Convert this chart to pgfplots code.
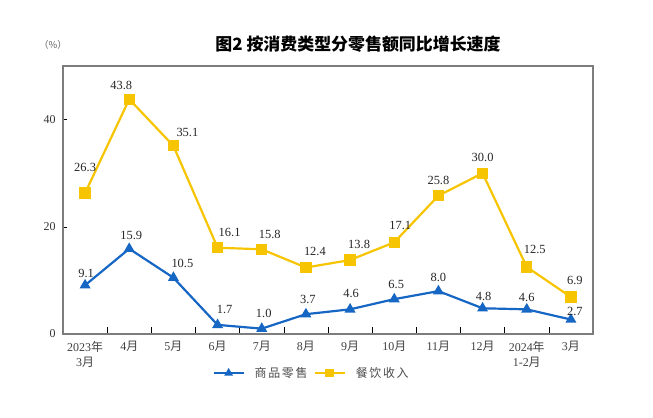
\documentclass[border=0pt]{standalone}
\usepackage{pgfplots}
\pgfplotsset{compat=1.18}
\usepackage{pgfplotstable}
\usepackage{fontspec}
\setmainfont{Liberation Serif}
\newfontfamily\cjk{Noto Sans CJK SC}
\newfontfamily\cjkl[LetterSpace=14]{Noto Sans CJK SC}
\usetikzlibrary{calc}
\definecolor{cblue}{RGB}{22,102,196}
\definecolor{cyellow}{RGB}{246,196,0}
\definecolor{cframe}{RGB}{125,125,125}

\pgfplotstableread{
x y dx dy
0 9.1 1 12
1 15.9 2 13
2 10.5 9 14
3 1.7 7 15
4 1.0 2 15
5 3.7 2 15
6 4.6 1 16
7 6.5 2 15
8 8.0 0 14
9 4.8 1 12
10 4.6 0 12
11 2.7 4 8
}\retail

\pgfplotstableread{
x y dx dy
0 26.3 0 26
1 43.8 -8 14
2 35.1 14 13
3 16.1 12 15
4 15.8 8 15
5 12.4 9 16
6 13.8 9 16
7 17.1 6 17
8 25.8 0 15
9 30.0 0 16
10 12.5 8 18
11 6.9 4 17
}\catering

\begin{document}
\begin{tikzpicture}[x=1bp,y=1bp]
\begin{axis}[
  name=ax,
  scale only axis,
  width=530bp, height=268bp,
  xmin=-0.5, xmax=11.5,
  ymin=0, ymax=50,
  axis line style={cframe, line width=1.2pt},
  xtick={0,...,11},
  xticklabels={{2023{\cjk 年}\\3{\cjk 月}},4{\cjk 月},5{\cjk 月},6{\cjk 月},7{\cjk 月},8{\cjk 月},9{\cjk 月},10{\cjk 月},11{\cjk 月},12{\cjk 月},{2024{\cjk 年}\\1-2{\cjk 月}},3{\cjk 月}},
  xticklabel style={align=center, font=\fontsize{12}{15}\selectfont, text=black!75, yshift=-4bp},
  major x tick style={draw=none},
  minor xtick={0.5,1.5,...,10.5},
  minor x tick style={black, line width=0.6pt},
  xtick pos=bottom,
  ytick={0,20,40},
  ytick pos=left,
  ytick style={black, line width=0.6pt},
  tick align=inside,
  minor tick length=7bp,
  major tick length=4bp,
  yticklabel style={font=\fontsize{12}{14}\selectfont, text=black!80, xshift=-4bp},
  /pgf/number format/assume math mode=true,
  clip=false,
  legend style={at={(0.469,-0.146)}, anchor=center, draw=none, legend columns=2,
    font=\cjkl\fontsize{12}{14}\selectfont, text=black!70, column sep=8bp,
    /tikz/every even column/.append style={column sep=4bp}},
  legend image code/.code={
    \draw[#1, mark repeat=2, mark phase=2, mark options={solid, scale=0.7}] plot coordinates {(0bp,0bp) (15bp,0bp) (30bp,0bp)};},
  nodes near coords={\pgfmathprintnumber[fixed, fixed zerofill, precision=1]{\pgfplotspointmeta}},
  nodes near coords style={font=\fontsize{12.5}{14}\selectfont, anchor=center, text=black!85, xshift=\dx bp, yshift=\dy bp},
  visualization depends on={\thisrow{dx} \as \dx},
  visualization depends on={\thisrow{dy} \as \dy},
]
\addplot[cblue, line width=2.2pt, mark=triangle*, mark size=4.2bp, mark options={solid}] table[x=x, y=y] {\retail};
\addlegendentry{商品零售}
\addplot[cyellow, line width=2.2pt, mark=square*, mark size=4.5bp, mark options={solid}] table[x=x, y=y] {\catering};
\addlegendentry{餐饮收入}
\end{axis}
\node[font=\cjk\bfseries\fontsize{17}{19}\selectfont, anchor=center] at ($(ax.north west)+(295bp,22bp)$) {图2\ 按消费类型分零售额同比增长速度};
\node[font=\cjk\fontsize{9.5}{12}\selectfont, text=black!60, anchor=center] at ($(ax.north west)+(-10bp,21bp)$) {（\%）};
\pgfresetboundingbox
\path[use as bounding box] ($(ax.south west)+(-63bp,-84bp)$) rectangle ($(ax.north east)+(60bp,66bp)$);
\end{tikzpicture}
\end{document}
